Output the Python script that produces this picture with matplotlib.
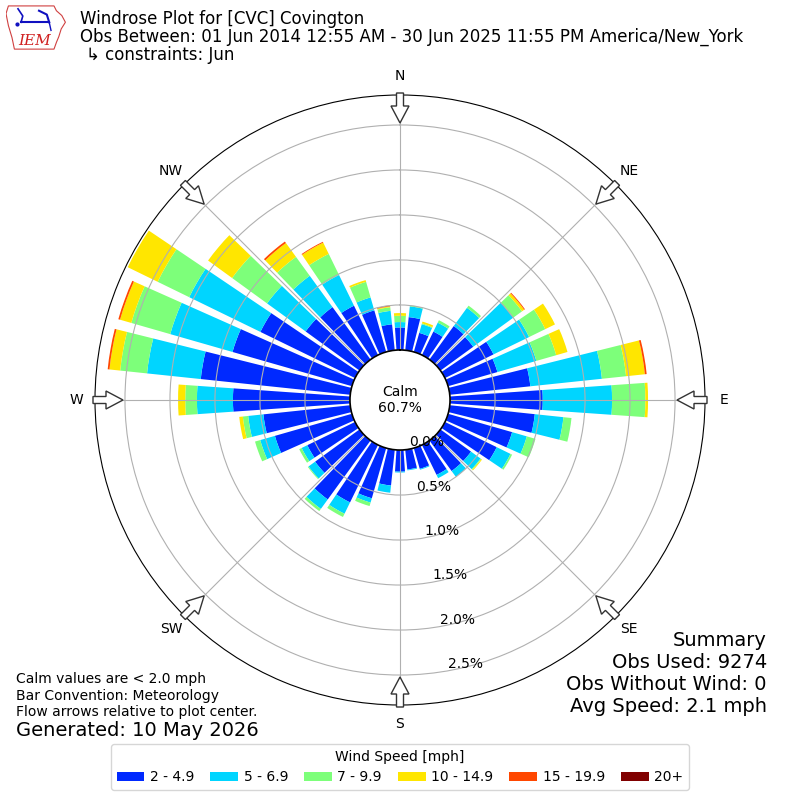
import numpy as np
import matplotlib
matplotlib.use("Agg")
import matplotlib.pyplot as plt
from matplotlib.patches import Polygon, Rectangle

# direction bins (deg, 10 deg sectors) and speed bins
directions = np.arange(0, 360, 10)
speed_labels = ["2 - 4.9", "5 - 6.9", "7 - 9.9", "10 - 14.9", "15 - 19.9", "20+"]

# percent of all observations, per sector, for each speed bin
pct_2_5 = [0.25, 0.37, 0.22, 0.29, 0.46, 0.45, 0.60, 0.57, 0.90, 1.03, 0.95, 0.74,
           0.64, 0.42, 0.42, 0.37, 0.24, 0.22, 0.24, 0.40, 0.58, 0.71, 0.81, 0.61,
           0.59, 0.89, 0.97, 1.30, 1.67, 1.38, 1.17, 0.74, 0.72, 0.61, 0.48, 0.29]
pct_5_7 = [0.06, 0.12, 0.10, 0.11, 0.25, 0.55, 0.44, 0.45, 0.80, 0.77, 0.32, 0.17,
           0.17, 0.13, 0.08, 0.04, 0.01, 0.01, 0.01, 0.08, 0.05, 0.14, 0.13, 0.09,
           0.07, 0.17, 0.17, 0.40, 0.60, 0.72, 0.88, 0.53, 0.43, 0.38, 0.15, 0.15]
pct_7_10 = [0.07, 0.01, 0.01, 0.03, 0.03, 0.12, 0.20, 0.23, 0.27, 0.37, 0.09, 0.10,
            0.02, 0.01, 0.00, 0.00, 0.00, 0.00, 0.00, 0.00, 0.04, 0.04, 0.03, 0.01,
            0.03, 0.06, 0.06, 0.13, 0.30, 0.45, 0.39, 0.48, 0.26, 0.26, 0.18, 0.04]
pct_10_15 = [0.03, 0.00, 0.02, 0.00, 0.00, 0.03, 0.12, 0.13, 0.21, 0.03, 0.00, 0.00,
             0.00, 0.01, 0.00, 0.00, 0.00, 0.00, 0.00, 0.00, 0.00, 0.00, 0.00, 0.00,
             0.00, 0.00, 0.04, 0.08, 0.12, 0.13, 0.37, 0.33, 0.19, 0.14, 0.02, 0.01]
pct_15_20 = [0.00, 0.00, 0.00, 0.00, 0.00, 0.01, 0.00, 0.00, 0.02, 0.00, 0.00, 0.00,
             0.00, 0.00, 0.00, 0.00, 0.00, 0.00, 0.00, 0.00, 0.00, 0.00, 0.00, 0.00,
             0.00, 0.00, 0.00, 0.00, 0.02, 0.02, 0.00, 0.00, 0.02, 0.01, 0.00, 0.01]
pct_20_up = [0.00, 0.00, 0.00, 0.00, 0.00, 0.00, 0.00, 0.00, 0.00, 0.00, 0.00, 0.00,
             0.00, 0.00, 0.00, 0.00, 0.00, 0.00, 0.00, 0.00, 0.00, 0.00, 0.00, 0.00,
             0.00, 0.00, 0.00, 0.00, 0.00, 0.00, 0.00, 0.00, 0.00, 0.00, 0.00, 0.00]

calm_pct = 60.7
ring_ticks = [0.0, 0.5, 1.0, 1.5, 2.0, 2.5]
compass = ["N", "NE", "E", "SE", "S", "SW", "W", "NW"]

colors = plt.cm.jet(np.linspace(0, 1, 7))[1:]

fig = plt.figure(figsize=(8, 8), dpi=100)
ax = fig.add_axes([95 / 800, 95 / 800, 610 / 800, 610 / 800], projection="polar")
ax.set_theta_zero_location("N")
ax.set_theta_direction(-1)

theta = np.radians(directions)
width = np.radians(8)
bottom = np.zeros(len(directions))
for vals, c in zip([pct_2_5, pct_5_7, pct_7_10, pct_10_15, pct_15_20, pct_20_up], colors):
    vals = np.array(vals)
    ax.bar(theta, vals, width=width, bottom=bottom, color=c, linewidth=0)
    bottom = bottom + vals

ax.set_rorigin(-0.556)
ax.set_ylim(0, 2.833)
ax.set_rgrids(ring_ticks, labels=["%.1f%%" % t for t in ring_ticks], angle=170)
ax.set_thetagrids(range(0, 360, 45), labels=compass)
ax.tick_params(axis="x", pad=3)
ax.grid(True, color="#b0b0b0", lw=0.8)
ax.spines["inner"].set_linewidth(1.2)

ax.text(0.5, 0.5, "Calm\n%.1f%%" % calm_pct, transform=ax.transAxes,
        ha="center", va="center", fontsize=10)

# flow arrows on the outer edge, pointing to the plot center
R = 610.0
shape = [(-3.5, 307), (3.5, 307), (3.5, 294), (9, 294), (0, 277),
         (-9, 294), (-3.5, 294)]
for ang in range(0, 360, 45):
    a = np.radians(ang)
    pts = []
    for w, r in shape:
        x = r * np.sin(a) + w * np.cos(a)
        y = r * np.cos(a) - w * np.sin(a)
        pts.append((0.5 + x / R, 0.5 + y / R))
    ax.add_patch(Polygon(pts, closed=True, transform=ax.transAxes, fc="white",
                         ec="#333333", lw=1, clip_on=False, zorder=10))

# header
fig.text(80 / 800, 1 - 19 / 800, "Windrose Plot for [CVC] Covington",
         fontsize=12, va="center")
fig.text(80 / 800, 1 - 37 / 800,
         "Obs Between: 01 Jun 2014 12:55 AM - 30 Jun 2025 11:55 PM America/New_York",
         fontsize=12, va="center")
fig.text(86 / 800, 1 - 55 / 800, "\u21b3 constraints: Jun", fontsize=12, va="center")

# logo
lax = fig.add_axes([6 / 800, 1 - 52 / 800, 60 / 800, 48 / 800])
lax.set_xlim(0, 1)
lax.set_ylim(0, 1)
lax.axis("off")
iowa = [(0.04, 0.96), (0.80, 0.96), (0.84, 0.86), (0.93, 0.76), (0.99, 0.62),
        (0.92, 0.48), (0.88, 0.32), (0.84, 0.20), (0.80, 0.06), (0.14, 0.06),
        (0.10, 0.30), (0.04, 0.55), (0.0, 0.80)]
lax.add_patch(Polygon(iowa, closed=True, fc="none", ec="#d04040", lw=0.8))
lax.plot([0.25, 0.72], [0.62, 0.62], color="#1010c0", lw=1.5)
lax.plot([0.2, 0.28, 0.25], [0.9, 0.75, 0.62], color="#1010c0", lw=1.2)
lax.plot([0.55, 0.68, 0.72], [0.86, 0.78, 0.62], color="#1010c0", lw=1.5)
lax.plot([0.72, 0.75], [0.62, 0.45], color="#1010c0", lw=1)
lax.plot([0.18], [0.58], "o", color="#1010c0", ms=2)
lax.text(0.48, 0.22, "IEM", color="#d02020", fontsize=11, ha="center", va="center",
         family="DejaVu Serif", style="italic")

# footer notes
fig.text(16 / 800, 1 - 679 / 800, "Calm values are < 2.0 mph", fontsize=10, va="center")
fig.text(16 / 800, 1 - 696 / 800, "Bar Convention: Meteorology", fontsize=10, va="center")
fig.text(16 / 800, 1 - 712 / 800, "Flow arrows relative to plot center.", fontsize=10,
         va="center")
fig.text(16 / 800, 1 - 730 / 800, "Generated: 10 May 2026", fontsize=14, va="center")

fig.text(767 / 800, 1 - 640 / 800, "Summary", fontsize=14, ha="right", va="center")
fig.text(767 / 800, 1 - 662 / 800, "Obs Used: 9274", fontsize=14, ha="right", va="center")
fig.text(767 / 800, 1 - 684 / 800, "Obs Without Wind: 0", fontsize=14, ha="right",
         va="center")
fig.text(767 / 800, 1 - 706 / 800, "Avg Speed: 2.1 mph", fontsize=14, ha="right",
         va="center")

handles = [Rectangle((0, 0), 1, 1, fc=c, ec="none") for c in colors]
fig.legend(handles, speed_labels, loc="lower center", bbox_to_anchor=(0.5, 10 / 800),
           borderaxespad=0, ncol=6, title="Wind Speed [mph]", fontsize=10,
           title_fontsize=10, columnspacing=1.15, handletextpad=0.4)

fig.savefig("out.png", dpi=100)
